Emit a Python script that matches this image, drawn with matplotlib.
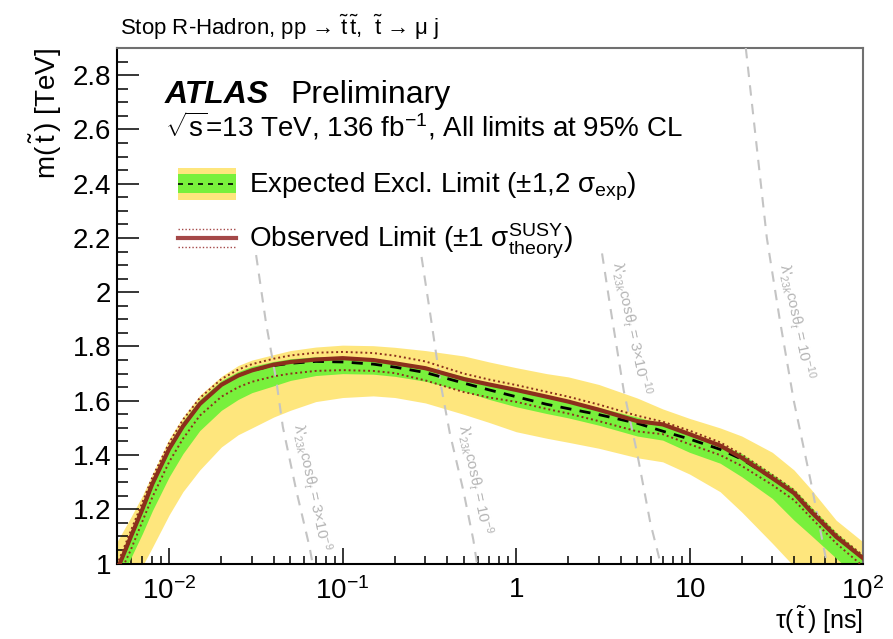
import matplotlib
matplotlib.use("Agg")
import matplotlib.pyplot as plt
from matplotlib.patches import Rectangle
from matplotlib.lines import Line2D
from matplotlib.legend_handler import HandlerBase
from matplotlib.ticker import FixedLocator, LogLocator, MultipleLocator, FuncFormatter, NullFormatter

plt.rcParams['font.family'] = ['Liberation Sans', 'DejaVu Sans']
plt.rcParams['mathtext.fontset'] = 'custom'
plt.rcParams['mathtext.rm'] = 'Liberation Sans'
plt.rcParams['mathtext.it'] = 'Liberation Sans:italic'
plt.rcParams['mathtext.bf'] = 'Liberation Sans:bold'
plt.rcParams['mathtext.sf'] = 'Liberation Sans'

# stop lifetime [ns]
tau = [0.005, 0.006, 0.007, 0.008, 0.01, 0.012, 0.015, 0.02, 0.025, 0.03, 0.04,
       0.05, 0.07, 0.1, 0.15, 0.2, 0.3, 0.5, 0.7, 1, 1.5, 2, 3, 5, 7, 10, 15,
       20, 30, 40, 50, 70, 100]

# observed limit and +-1 sigma theory [TeV]
obs = [0.975, 1.098, 1.20, 1.294, 1.423, 1.506, 1.588, 1.659, 1.693, 1.712, 1.733,
       1.743, 1.752, 1.757, 1.750, 1.738, 1.720, 1.680, 1.660, 1.640, 1.615, 1.597,
       1.567, 1.525, 1.513, 1.477, 1.435, 1.390, 1.315, 1.260, 1.192, 1.099, 1.02]
obs_up = [0.995, 1.12, 1.225, 1.318, 1.445, 1.53, 1.61, 1.68, 1.715, 1.735, 1.755,
          1.767, 1.777, 1.78, 1.776, 1.766, 1.745, 1.70, 1.678, 1.658, 1.633, 1.615,
          1.586, 1.545, 1.523, 1.49, 1.447, 1.402, 1.327, 1.271, 1.204, 1.11, 1.03]
obs_dn = [0.94, 1.05, 1.155, 1.245, 1.375, 1.46, 1.545, 1.615, 1.65, 1.67, 1.69,
          1.70, 1.71, 1.713, 1.71, 1.702, 1.675, 1.632, 1.612, 1.596, 1.57, 1.553,
          1.525, 1.487, 1.477, 1.44, 1.40, 1.36, 1.29, 1.234, 1.17, 1.075, 0.99]

# expected limit with 1 and 2 sigma bands [TeV]
exp = [0.975, 1.098, 1.20, 1.294, 1.423, 1.506, 1.588, 1.659, 1.693, 1.712, 1.730,
       1.738, 1.745, 1.743, 1.735, 1.724, 1.704, 1.665, 1.640, 1.615, 1.587, 1.571,
       1.549, 1.517, 1.488, 1.459, 1.421, 1.385, 1.315, 1.260, 1.192, 1.099, 1.02]
exp_p1 = [1.0, 1.11, 1.215, 1.31, 1.44, 1.525, 1.605, 1.675, 1.708, 1.727, 1.745,
          1.755, 1.762, 1.763, 1.756, 1.745, 1.725, 1.69, 1.665, 1.642, 1.617, 1.60,
          1.575, 1.54, 1.515, 1.483, 1.44, 1.405, 1.33, 1.275, 1.21, 1.115, 1.03]
exp_m1 = [0.92, 1.02, 1.11, 1.195, 1.32, 1.405, 1.49, 1.565, 1.605, 1.63, 1.655,
          1.675, 1.693, 1.70, 1.698, 1.69, 1.672, 1.635, 1.605, 1.578, 1.553, 1.537,
          1.51, 1.47, 1.455, 1.41, 1.37, 1.32, 1.24, 1.16, 1.105, 1.02, 0.93]
exp_p2 = [1.08, 1.17, 1.25, 1.33, 1.46, 1.54, 1.62, 1.69, 1.73, 1.75, 1.77,
          1.785, 1.798, 1.805, 1.803, 1.797, 1.785, 1.765, 1.743, 1.722, 1.70, 1.688,
          1.66, 1.61, 1.57, 1.535, 1.50, 1.47, 1.41, 1.345, 1.275, 1.16, 1.08]
exp_m2 = [0.84, 0.92, 0.99, 1.06, 1.18, 1.265, 1.345, 1.43, 1.475, 1.50, 1.54,
          1.565, 1.597, 1.612, 1.618, 1.612, 1.592, 1.55, 1.52, 1.486, 1.462, 1.447,
          1.425, 1.39, 1.375, 1.33, 1.265, 1.19, 1.075, 0.99, 0.93, 0.85, 0.77]

# constant-coupling contours: lambda'_23k cos(theta_t)
coupling_labels = ['3×10$^{-9}$', '10$^{-9}$', '3×10$^{-10}$', '10$^{-10}$']
contour_m = [
    [2.137, 1.885, 1.676, 1.504, 1.27, 1.062, 1.0],
    [2.13, 1.885, 1.676, 1.48, 1.27, 1.087, 1.0],
    [2.143, 1.946, 1.639, 1.406, 1.148, 1.05, 1.0],
    [2.9, 2.2, 1.9, 1.6, 1.3, 1.0],
]
contour_tau = [
    [0.0317, 0.0362, 0.0414, 0.0452, 0.054, 0.0644, 0.0671],
    [0.285, 0.326, 0.364, 0.415, 0.496, 0.567, 0.595],
    [3.13, 3.49, 4.17, 4.99, 5.95, 6.51, 6.8],
    [21.1, 27.9, 33.1, 39.9, 50.1, 61.9],
]
label_tau = [0.0662, 0.579, 4.62, 41.5]
label_m = [1.282, 1.308, 1.868, 1.893]

c_yellow = '#fee67d'
c_green = '#78f03c'
c_obs = '#8c2f1c'
c_grey = '#c4c4c4'

fig = plt.figure(figsize=(8.93, 6.39), dpi=100)
ax = fig.add_axes([0.131, 0.118, 0.8354, 0.8069])

band2 = ax.fill_between(tau, exp_m2, exp_p2, color=c_yellow, lw=0, zorder=1)
ax.fill_between(tau, exp_m1, exp_p1, color=c_green, lw=0, zorder=2)

for ct, cm in zip(contour_tau, contour_m):
    ax.plot(ct, cm, color=c_grey, lw=1.5, ls=(0, (5, 4)), zorder=3)
for lab, lt, lm in zip(coupling_labels, label_tau, label_m):
    ax.text(lt, lm, "λ'$_{23k}$cosθ$_{t}$ = " + lab, color='#b4b4b4', fontsize=11,
            rotation=-78, rotation_mode='anchor', ha='center', va='center', zorder=3)

ax.plot(tau, exp, color='black', lw=2, ls=(0, (4, 3)), zorder=4)
obs_line, = ax.plot(tau, obs, color=c_obs, lw=3, zorder=5)
ax.plot(tau, obs_up, color=c_obs, lw=1.4, ls=(0, (1, 1.5)), zorder=5)
ax.plot(tau, obs_dn, color=c_obs, lw=1.4, ls=(0, (1, 1.5)), zorder=5)

ax.set_xscale('log')
ax.set_xlim(0.005, 100)
ax.set_ylim(1, 2.9)

ax.xaxis.set_major_locator(FixedLocator([0.01, 0.1, 1, 10, 100]))
ax.set_xticklabels(['$10^{-2}$', '$10^{-1}$', '$1$', '$10$', '$10^{2}$'])
ax.xaxis.set_minor_locator(LogLocator(base=10, subs=range(2, 10)))
ax.xaxis.set_minor_formatter(NullFormatter())
ax.yaxis.set_major_locator(MultipleLocator(0.2))
ax.yaxis.set_minor_locator(MultipleLocator(0.05))
ax.yaxis.set_major_formatter(FuncFormatter(lambda v, p: '%g' % round(v, 2)))

ax.tick_params(axis='both', which='both', direction='in', width=1.1,
               top=False, right=False, labelsize=20)
ax.tick_params(axis='y', which='major', length=16, pad=4)
ax.tick_params(axis='y', which='minor', length=8)
ax.tick_params(axis='x', which='major', length=11.5, pad=10)
ax.tick_params(axis='x', which='minor', length=6)

for s in ['left', 'bottom']:
    ax.spines[s].set_linewidth(1.5)
for s in ['top', 'right']:
    ax.spines[s].set_linewidth(1.5)
    ax.spines[s].set_color('#707070')

ax.set_xlabel(r'τ($\,\tilde{\mathrm{t}}\,$) [ns]', fontsize=18, ha='right', va='top')
ax.xaxis.set_label_coords(1.0, -0.079)
ax.set_ylabel(r'm($\,\tilde{\mathrm{t}}\,$) [TeV]', fontsize=20, loc='top', labelpad=6)

fig.text(0.134, 0.945, r'Stop R-Hadron, pp → $\tilde{\mathrm{t}}\,\tilde{\mathrm{t}}$,  $\tilde{\mathrm{t}}$ → μ j',
         fontsize=16, ha='left', va='baseline')

ax.text(0.0643, 0.893, 'ATLAS', transform=ax.transAxes, fontsize=23,
        fontweight='bold', fontstyle='italic', va='baseline')
ax.text(0.2319, 0.893, 'Preliminary', transform=ax.transAxes, fontsize=23, va='baseline')
ax.text(0.0643, 0.829, r'$\sqrt{\mathrm{s}}$=13 TeV, 136 fb$^{-1}$, All limits at 95% CL',
        transform=ax.transAxes, fontsize=20, va='baseline')


class ExpectedHandler(HandlerBase):
    def create_artists(self, legend, orig_handle, xdescent, ydescent, width, height,
                       fontsize, trans):
        x0, y0 = -xdescent, -ydescent
        outer = Rectangle((x0, y0), width, height, fc=c_yellow, ec='none', transform=trans)
        inner = Rectangle((x0, y0 + 0.2 * height), width, 0.6 * height, fc=c_green,
                          ec='none', transform=trans)
        mid = Line2D([x0, x0 + width], [y0 + height / 2] * 2, color='black', lw=1.2,
                     ls=(0, (3, 3)), transform=trans)
        return [outer, inner, mid]


class ObservedHandler(HandlerBase):
    def create_artists(self, legend, orig_handle, xdescent, ydescent, width, height,
                       fontsize, trans):
        x0, y0 = -xdescent, -ydescent
        yc = y0 + height / 2
        solid = Line2D([x0, x0 + width], [yc, yc], color='#a44848', lw=3, transform=trans)
        up = Line2D([x0, x0 + width], [yc + 6.5, yc + 6.5], color='#a44848', lw=1,
                    ls=(0, (1, 1.5)), transform=trans)
        dn = Line2D([x0, x0 + width], [yc - 6.5, yc - 6.5], color='#a44848', lw=1,
                    ls=(0, (1, 1.5)), transform=trans)
        return [solid, up, dn]


ax.legend([band2, obs_line],
          [r'Expected Excl. Limit (±1,2 σ$_{\mathrm{exp}}$)',
           r'Observed Limit (±1 σ$^{\mathrm{SUSY}}_{\mathrm{theory}}$)'],
          handler_map={band2: ExpectedHandler(), obs_line: ObservedHandler()},
          loc='upper left', bbox_to_anchor=(0.0818, 0.768), frameon=False,
          fontsize=20, handlelength=2.1, handleheight=1.4, handletextpad=0.45,
          labelspacing=0.65, borderpad=0, borderaxespad=0)

fig.savefig('out.png', dpi=100)
